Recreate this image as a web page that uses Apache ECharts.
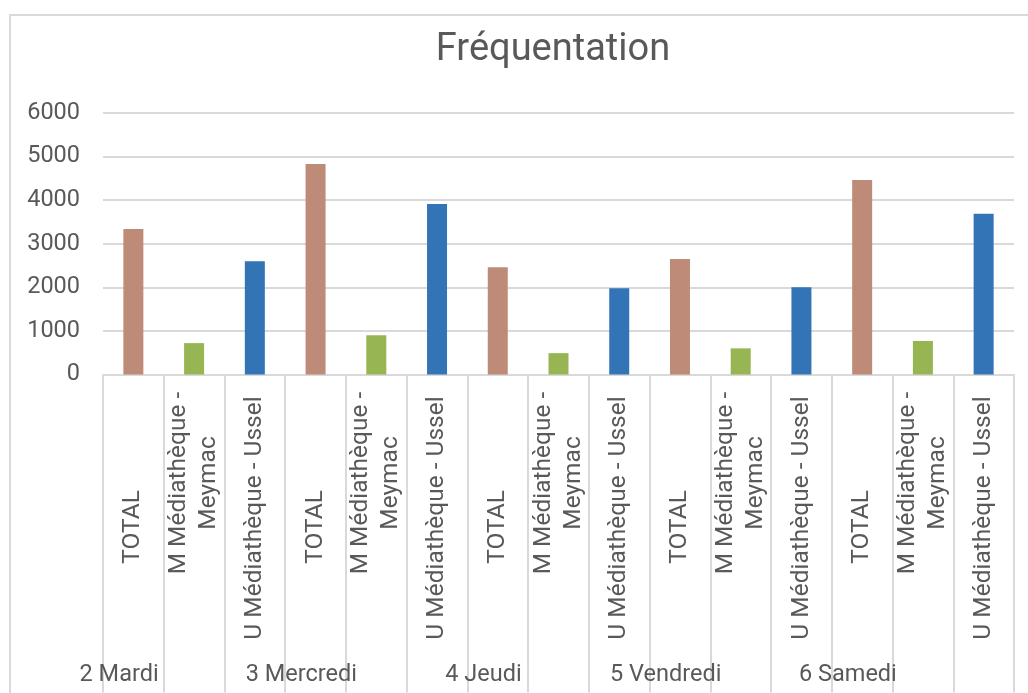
<!DOCTYPE html>
<html>
<head>
<meta charset="utf-8">
<script src="https://cdn.jsdelivr.net/npm/echarts@6/dist/echarts.min.js"></script>
<style>html,body{margin:0;padding:0;background:#fff;}#c{width:1028px;height:693px;}</style>
</head>
<body>
<div id="c"></div>
<script>
const days = ['2 Mardi', '3 Mercredi', '4 Jeudi', '5 Vendredi', '6 Samedi'];
const subCategories = ['TOTAL', 'M Médiathèque -\nMeymac', 'U Médiathèque - Ussel'];
const totalValues = [3340, 4830, 2460, 2650, 4460];
const meymacValues = [720, 900, 490, 600, 770];
const usselValues = [2600, 3910, 1980, 2000, 3690];
const yTicks = [0, 1000, 2000, 3000, 4000, 5000, 6000];

const colors = ['#BE8B78', '#97B552', '#3274B5'];
const categories = [];
const barData = [];
days.forEach((d, i) => {
  [totalValues[i], meymacValues[i], usselValues[i]].forEach((v, k) => {
    categories.push(subCategories[k]);
    barData.push({ value: v, itemStyle: { color: colors[k] } });
  });
});

const FONT = 'Roboto';
const TXT = '#595959';
const CAT_FS = 24.5;
const chart = echarts.init(document.getElementById('c'));
chart.setOption({
  backgroundColor: '#ffffff',
  animation: false,
  title: {
    text: 'Fréquentation',
    left: 548, top: 26, textAlign: 'center',
    textStyle: { fontFamily: FONT, fontSize: 38, fontWeight: 'normal', color: TXT }
  },
  graphic: [{
    type: 'rect', silent: true,
    shape: { x: 10, y: 15, width: 1040, height: 700 },
    style: { fill: 'none', stroke: '#d9d9d9', lineWidth: 2 }
  }],
  grid: { left: 103, right: 14, top: 113, bottom: 318.5, containLabel: false },
  xAxis: [{
    type: 'category',
    data: categories,
    axisLine: { show: true, lineStyle: { color: '#d9d9d9', width: 2 } },
    axisTick: { show: true, interval: 0, length: 318, lineStyle: { color: '#d9d9d9', width: 2 } },
    axisLabel: {
      interval: 0, rotate: 90, align: 'center', verticalAlign: 'middle',
      margin: 108.5, fontFamily: FONT, fontSize: CAT_FS, lineHeight: 30, color: TXT,
      formatter: v => v === 'TOTAL' ? '{t|TOTAL}' : (v.indexOf('Ussel') >= 0 ? '{u|' + v + '}' : v),
      rich: {
        t: { fontFamily: FONT, fontSize: CAT_FS, color: TXT, padding: [0, 88, 0, 0] },
        u: { fontFamily: FONT, fontSize: CAT_FS, color: TXT, padding: [0, 70, 0, 0] }
      }
    },
    splitLine: { show: false }
  }, {
    type: 'category',
    data: days,
    position: 'bottom',
    offset: 281,
    axisLine: { show: false },
    axisTick: { show: false },
    axisLabel: {
      interval: 0, margin: 8, align: 'center', padding: [0, 150, 0, 0],
      fontFamily: FONT, fontSize: 23.5, color: TXT
    }
  }],
  yAxis: {
    type: 'value', min: yTicks[0], max: yTicks[yTicks.length - 1], interval: 1000,
    axisLine: { show: false }, axisTick: { show: false },
    axisLabel: { margin: 23, fontFamily: FONT, fontSize: 23.5, color: TXT, formatter: v => String(v) },
    splitLine: { lineStyle: { color: '#d9d9d9', width: 2 } }
  },
  series: [{
    type: 'bar', xAxisIndex: 0, data: barData, barWidth: 20
  }]
});
</script>
</body>
</html>
